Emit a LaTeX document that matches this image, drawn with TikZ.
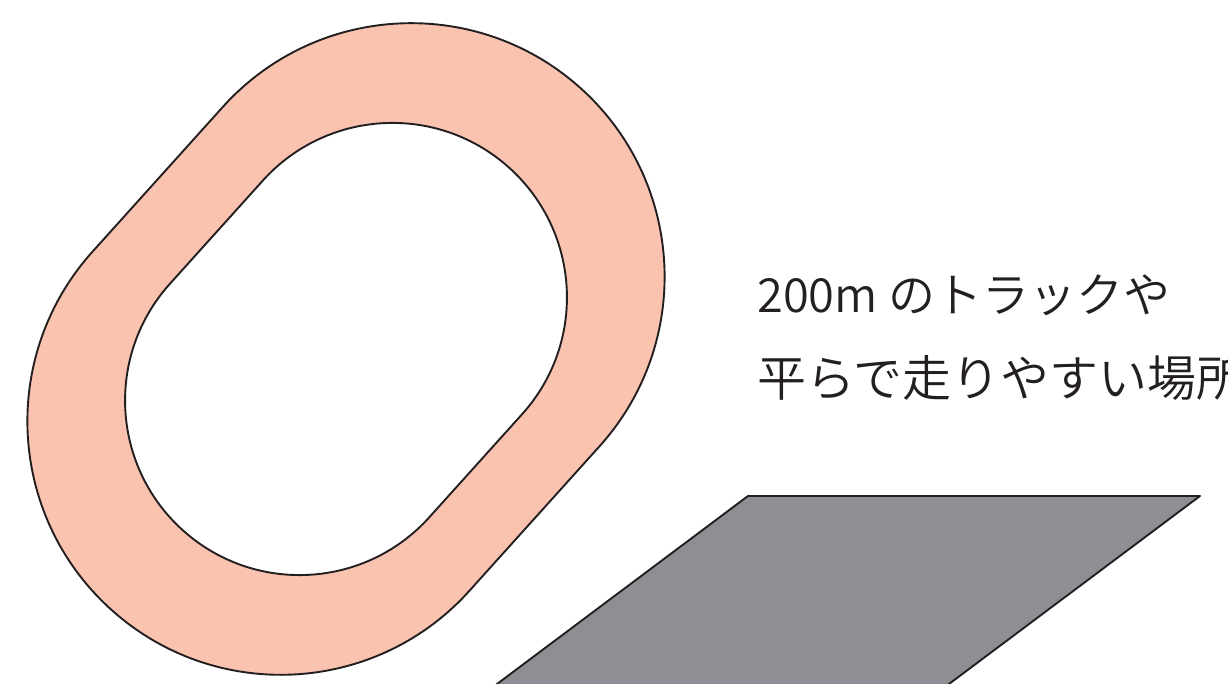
\documentclass[tikz,border=0pt]{standalone}
\usepackage{fontspec}
\newfontfamily\jpfont{Noto Sans CJK JP}[UprightFont=* DemiLight]
\definecolor{trackpink}{RGB}{249,195,176}
\definecolor{fieldgray}{RGB}{142,143,148}
\definecolor{inkdark}{RGB}{35,31,32}
\begin{document}
\begin{tikzpicture}[x=1pt,y=1pt,
  outline/.style={draw=inkdark,line width=1.9pt,line join=round},
  label/.style={anchor=base west,inner sep=0pt,text=inkdark}]
\useasboundingbox (0,0) rectangle (1228,684);
\clip (0,0) rectangle (1228,684);
\fill[white] (0,0) rectangle (1228,684);
% running track (outer stadium with inner stadium hole)
\begin{scope}[shift={(346,335)},rotate=48]
  \path[outline,fill=trackpink,even odd rule]
    (-97.3,-253.5) -- (97.3,-253.5) arc[start angle=-90,end angle=90,radius=253.5]
    -- (-97.3,253.5) arc[start angle=90,end angle=270,radius=253.5] -- cycle
    (-69.4,-174.5) -- (69.4,-174.5) arc[start angle=-90,end angle=90,radius=174.5]
    -- (-69.4,174.5) arc[start angle=90,end angle=270,radius=174.5] -- cycle;
\end{scope}
% flat ground
\path[outline,fill=fieldgray] (748,188) -- (1200,188) -- (922.3,-20) -- (470.3,-20) -- cycle;
% text
\node[label,font=\jpfont\fontsize{47}{47}\selectfont] (l1) at (757,371) {200m のトラックや};
\node[label,font=\jpfont\fontsize{49}{49}\selectfont] (l2) at (757,287) {平らで走りやすい場所};
\end{tikzpicture}
\end{document}
